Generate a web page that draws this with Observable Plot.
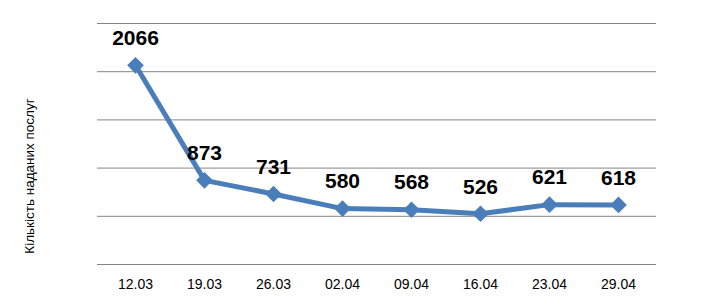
<!DOCTYPE html>
<html>
<head>
<meta charset="utf-8">
<script src="https://cdn.jsdelivr.net/npm/d3@7"></script>
<script src="https://cdn.jsdelivr.net/npm/@observablehq/plot@0.6"></script>
<style>
  body { margin: 0; background: #fff; }
  #chart { position: relative; width: 723px; height: 307px; }
  #ylabel { position: absolute; left: 29px; top: 176px; transform: translate(-50%, -50%) rotate(-90deg);
    font-family: "Liberation Sans", Arial, sans-serif; font-size: 13.5px; white-space: nowrap; color: #000; }
</style>
</head>
<body>
<div id="chart"><div id="ylabel">Кількість наданих послуг</div></div>
<script>
const dates = ["12.03", "19.03", "26.03", "02.04", "09.04", "16.04", "23.04", "29.04"];
const services = [2066, 873, 731, 580, 568, 526, 621, 618];
const yTicks = [0, 500, 1000, 1500, 2000, 2500];

const data = dates.map((d, i) => ({date: d, value: services[i]}));
const font = "'Liberation Sans Narrow', 'Arial Narrow', 'Liberation Sans', Arial, sans-serif";

const plot = Plot.plot({
  width: 723,
  height: 307,
  marginLeft: 97,
  marginRight: 67,
  marginTop: 23,
  marginBottom: 43,
  style: {fontFamily: font, background: "#fff"},
  x: {type: "point", domain: dates, padding: 0.5, label: null, axis: null},
  y: {domain: [0, 2500], label: null, axis: null},
  marks: [
    Plot.ruleY(yTicks, {stroke: "#868686", strokeWidth: 1}),
    Plot.axisX({tickSize: 0, tickPadding: 15, fontSize: 14, fill: "#000", label: null}),
    Plot.line(data, {x: "date", y: "value", stroke: "#4A7EBB", strokeWidth: 5, strokeLinejoin: "round"}),
    Plot.dot(data, {x: "date", y: "value", symbol: "diamond2", r: 7.5, fill: "#4A7EBB", stroke: "none"}),
    Plot.text(data, {x: "date", y: "value", text: d => String(d.value), dy: -27, fontSize: 21, fontWeight: "bold", fill: "#000"})
  ]
});
document.getElementById("chart").appendChild(plot);
</script>
</body>
</html>
